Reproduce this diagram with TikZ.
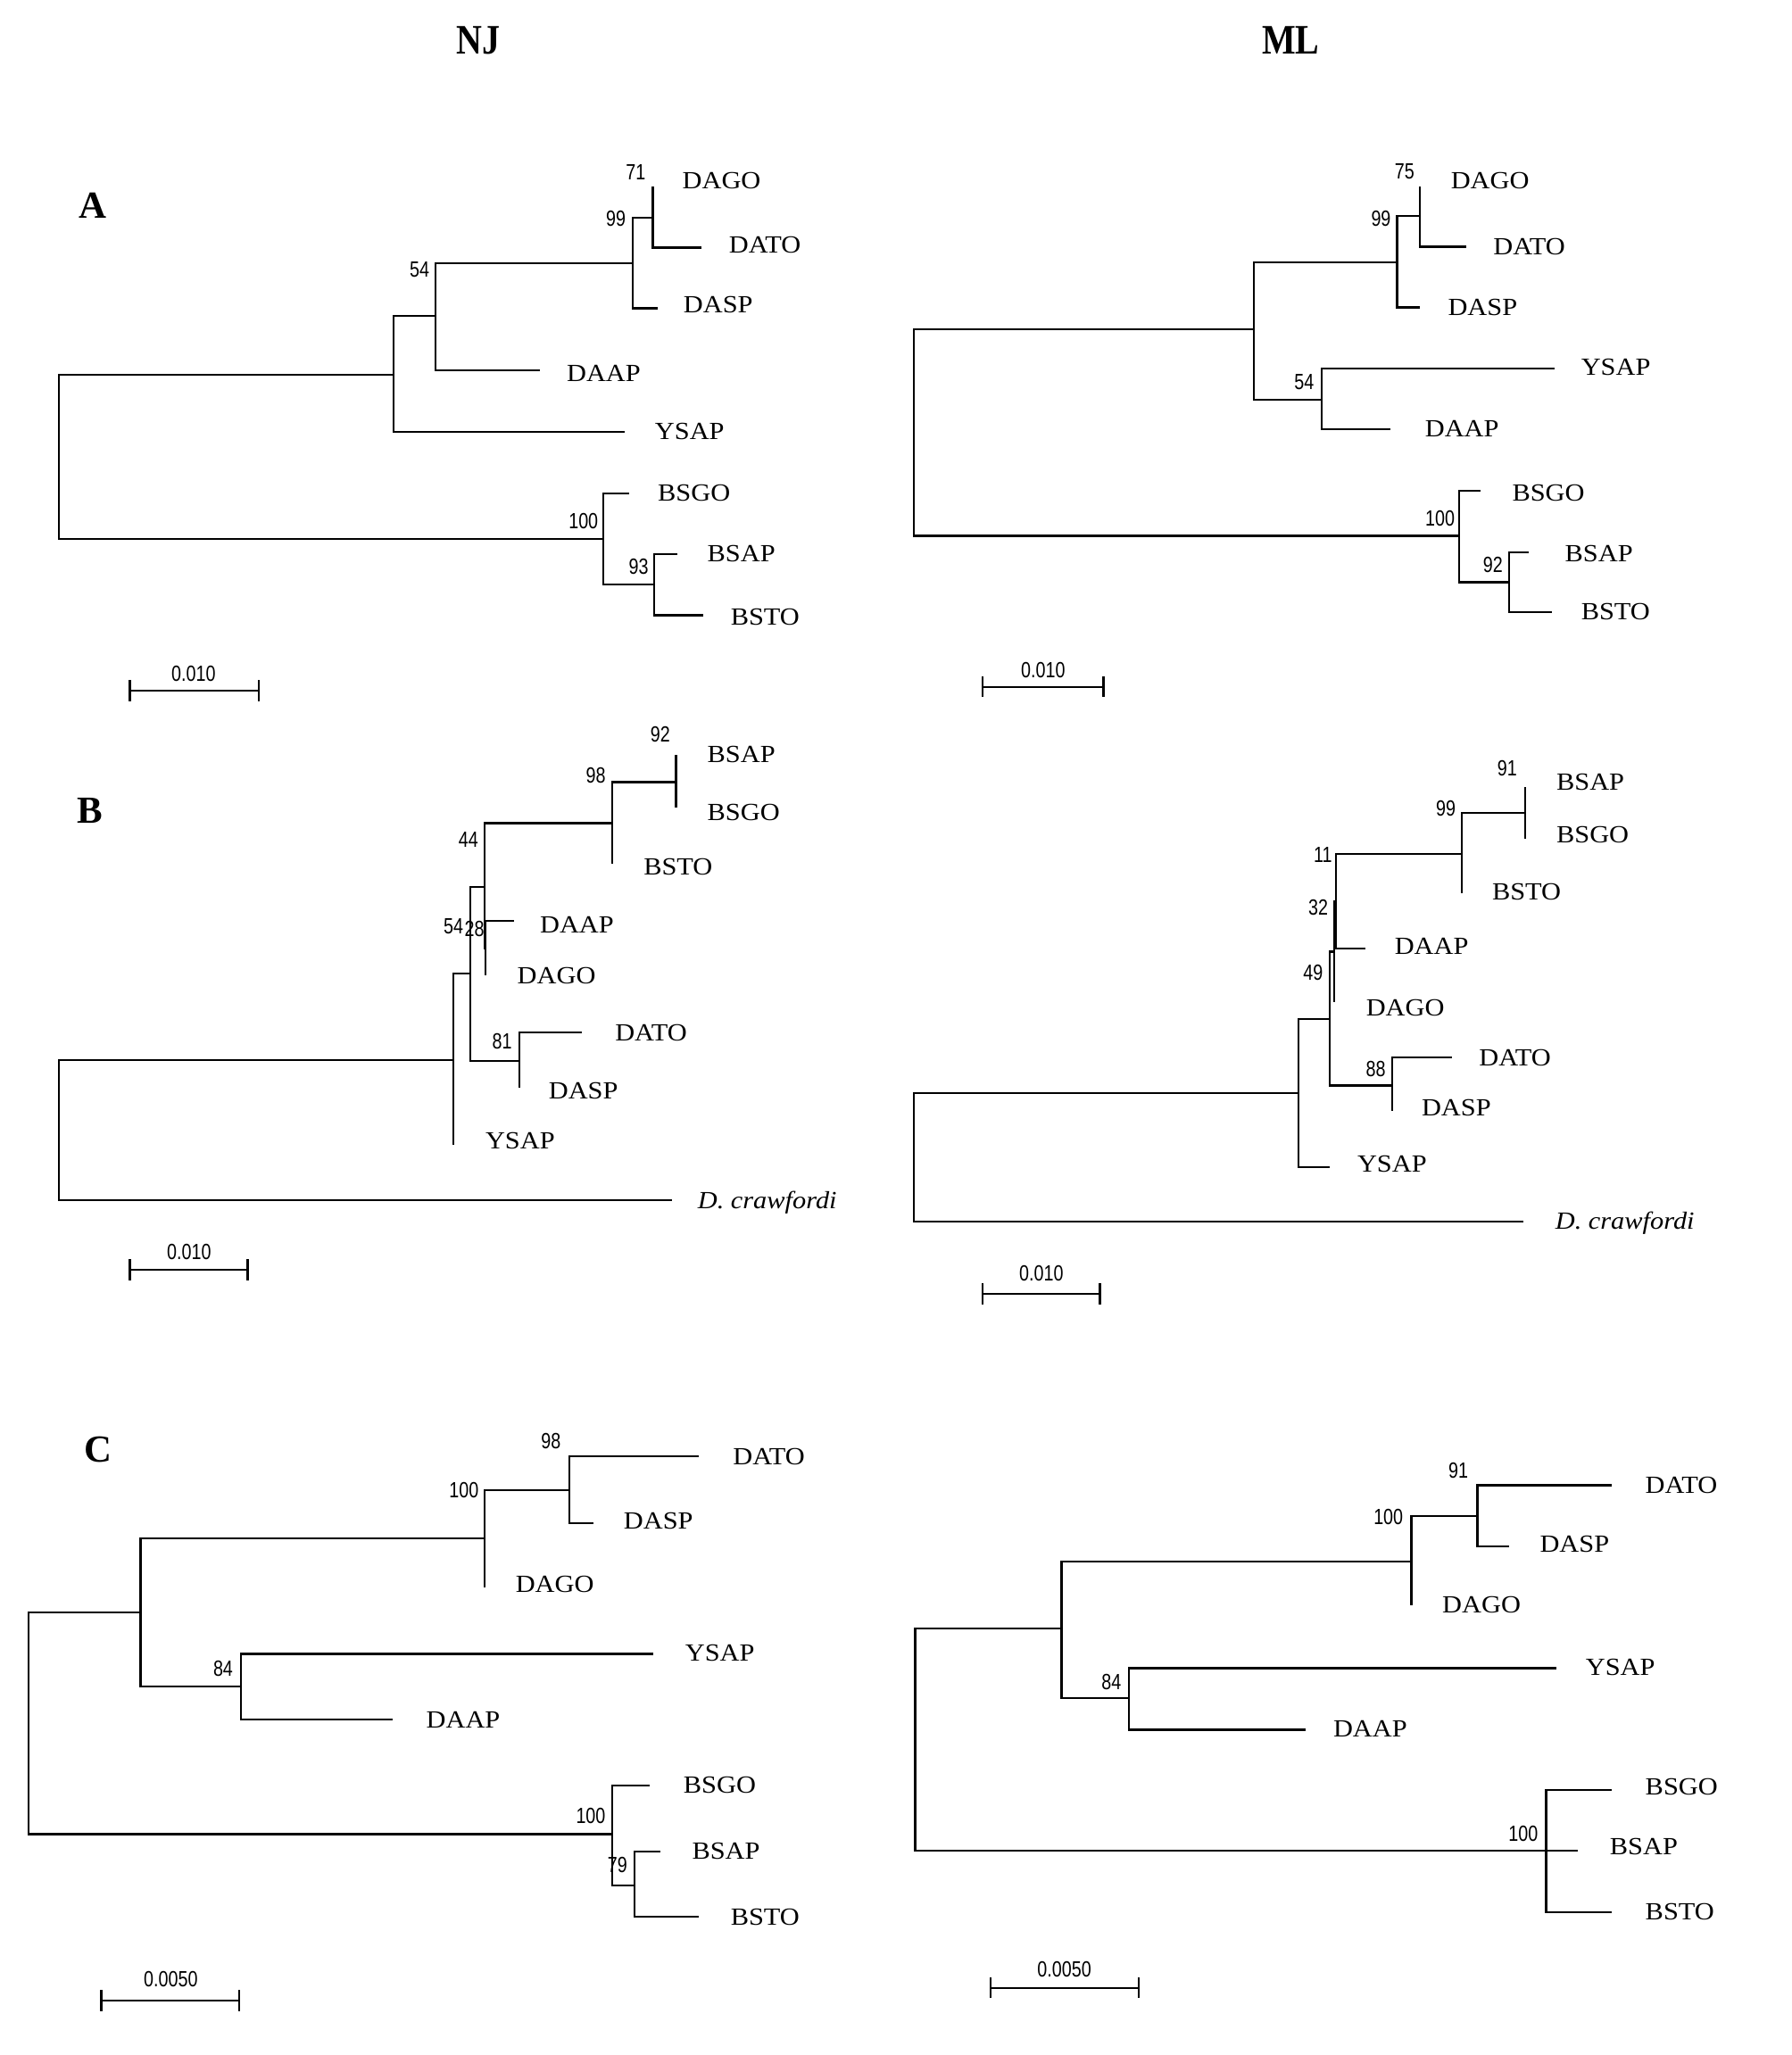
\documentclass[tikz,border=0pt]{standalone}
\usepackage{fontspec}
\setmainfont{Liberation Serif}
\newfontfamily\taxfont[FakeStretch=1.1]{Liberation Serif}
\newfontfamily\bootfont[FakeStretch=0.8]{Liberation Sans}
\newfontfamily\titfont[FakeStretch=0.85]{Liberation Serif}
\begin{document}
\begin{tikzpicture}[x=0.5pt,y=-0.5pt,
  br/.style={line width=0.75pt},
  tax/.style={anchor=base west,inner sep=0pt,font=\taxfont\fontsize{9.4}{11}\selectfont},
  taxit/.style={tax,font=\taxfont\itshape\fontsize{9.4}{11}\selectfont},
  boot/.style={anchor=center,inner sep=0pt,font=\bootfont\fontsize{8.4}{10}\selectfont},
  paneltitle/.style={anchor=base,inner sep=0pt,font=\titfont\bfseries\fontsize{16}{18}\selectfont},
  panelletter/.style={anchor=base,inner sep=0pt,font=\bfseries\fontsize{14.6}{16}\selectfont}
]
\useasboundingbox (0,0) rectangle (1367,1568);

% titles
\node[paneltitle] (tNJ) at (364.9,40.9) {NJ};
\node[paneltitle] (tML) at (984.8,40.9) {ML};
\node[panelletter] (pA) at (70.8,166.3) {A};
\node[panelletter] (pB) at (68.6,628.3) {B};
\node[panelletter] (pC) at (74.7,1115.8) {C};

%% ================= A NJ =================
\coordinate (anR) at (44.7,348.5);
\coordinate (an1) at (300.5,285.7);
\coordinate (an54) at (332.2,241.1);
\coordinate (an99) at (482.8,200.7);
\coordinate (an71) at (498.0,165.9);
\coordinate (anDAGO) at (498.0,142.5);
\coordinate (anDATO) at (535.0,188.9);
\coordinate (anDASP) at (501.5,235.2);
\coordinate (anDAAP) at (411.6,282.5);
\coordinate (anYSAP) at (476.3,329.7);
\coordinate (an100) at (460.3,411.2);
\coordinate (anBSGO) at (479.8,376.4);
\coordinate (an93) at (499.3,445.7);
\coordinate (anBSAP) at (516.7,423.0);
\coordinate (anBSTO) at (536.3,469.4);
\foreach \p/\c in {anR/an1,anR/an100,an1/an54,an1/anYSAP,an54/an99,an54/anDAAP,
  an99/an71,an99/anDASP,an71/anDAGO,an71/anDATO,an100/anBSGO,an100/an93,an93/anBSAP,an93/anBSTO}
  \draw[br] (\p) |- (\c);
\node[tax] (anDAGOl) at (520.2,144.3) {DAGO};
\node[tax] (anDATOl) at (555.8,193.0) {DATO};
\node[tax] (anDASPl) at (521.1,238.5) {DASP};
\node[tax] (anDAAPl) at (432.0,291.0) {DAAP};
\node[tax] (anYSAPl) at (499.3,335.3) {YSAP};
\node[tax] (anBSGOl) at (501.5,382.0) {BSGO};
\node[tax] (anBSAPl) at (539.3,428.3) {BSAP};
\node[tax] (anBSTOl) at (557.1,477.0) {BSTO};
\node[boot] (anb71) at (485.0,131.3) {71};
\node[boot] (anb99) at (469.8,166.7) {99};
\node[boot] (anb54) at (320.0,206.0) {54};
\node[boot] (anb100) at (445.1,397.9) {100};
\node[boot] (anb93) at (487.2,432.5) {93};
\coordinate (ansL) at (99.0,527.0);
\coordinate (ansR) at (197.6,527.0);
\draw[br] (ansL) -- (ansR);
\draw[br] ([yshift=4pt]ansL) -- ([yshift=-4pt]ansL);
\draw[br] ([yshift=4pt]ansR) -- ([yshift=-4pt]ansR);
\node[boot] (ansl) at (147.6,513.7) {0.010};

%% ================= A ML =================
\coordinate (amR) at (697.3,330.2);
\coordinate (am1) at (956.4,251.5);
\coordinate (am99) at (1065.8,200.1);
\coordinate (am75) at (1083.3,164.7);
\coordinate (amDAGO) at (1083.3,142.5);
\coordinate (amDATO) at (1118.3,188.3);
\coordinate (amDASP) at (1083.3,234.6);
\coordinate (am54) at (1008.1,304.9);
\coordinate (amYSAP) at (1186.2,281.0);
\coordinate (amDAAP) at (1060.6,327.6);
\coordinate (am100) at (1113.1,408.8);
\coordinate (amBSGO) at (1129.3,374.3);
\coordinate (am92) at (1151.2,444.3);
\coordinate (amBSAP) at (1166.5,421.5);
\coordinate (amBSTO) at (1184.0,467.0);
\foreach \p/\c in {amR/am1,amR/am100,am1/am99,am1/am54,am99/am75,am99/amDASP,
  am75/amDAGO,am75/amDATO,am54/amYSAP,am54/amDAAP,am100/amBSGO,am100/am92,am92/amBSAP,am92/amBSTO}
  \draw[br] (\p) |- (\c);
\node[tax] (amDAGOl) at (1106.5,144.3) {DAGO};
\node[tax] (amDATOl) at (1138.9,194.5) {DATO};
\node[tax] (amDASPl) at (1104.3,240.8) {DASP};
\node[tax] (amYSAPl) at (1205.9,286.0) {YSAP};
\node[tax] (amDAAPl) at (1086.8,333.2) {DAAP};
\node[tax] (amBSGOl) at (1153.3,382.0) {BSGO};
\node[tax] (amBSAPl) at (1193.6,428.3) {BSAP};
\node[tax] (amBSTOl) at (1205.9,472.6) {BSTO};
\node[boot] (amb75) at (1071.5,130.7) {75};
\node[boot] (amb99) at (1053.6,166.7) {99};
\node[boot] (amb54) at (994.9,291.6) {54};
\node[boot] (amb100) at (1098.6,395.5) {100};
\node[boot] (amb92) at (1138.9,431.0) {92};
\coordinate (amsL) at (749.8,524.0);
\coordinate (amsR) at (841.8,524.0);
\draw[br] (amsL) -- (amsR);
\draw[br] ([yshift=4pt]amsL) -- ([yshift=-4pt]amsL);
\draw[br] ([yshift=4pt]amsR) -- ([yshift=-4pt]amsR);
\node[boot] (amsl) at (795.8,511.3) {0.010};

%% ================= B NJ =================
\coordinate (bnR) at (44.7,862.2);
\coordinate (bnX) at (346.0,808.8);
\coordinate (bnY) at (359.0,742.8);
\coordinate (bnYSAP) at (346.0,873.5);
\coordinate (bnZ) at (369.9,676.7);
\coordinate (bn81) at (396.4,809.6);
\coordinate (bnW) at (370.6,723.5);
\coordinate (bn98) at (466.8,628.1);
\coordinate (bn92) at (515.8,596.7);
\coordinate (bnBSAP) at (515.8,576.1);
\coordinate (bnBSGO) at (515.8,616.2);
\coordinate (bnBSTO) at (466.8,659.2);
\coordinate (bnDAAP) at (392.1,702.8);
\coordinate (bnDAGO) at (370.6,744.3);
\coordinate (bnDATO) at (443.8,787.6);
\coordinate (bnDASP) at (396.4,829.7);
\coordinate (bnDcr) at (512.4,915.7);
\foreach \p/\c in {bnR/bnX,bnR/bnDcr,bnX/bnY,bnX/bnYSAP,bnY/bnZ,bnY/bn81,bnZ/bn98,bnZ/bnW,
  bnW/bnDAAP,bnW/bnDAGO,bn98/bn92,bn98/bnBSTO,bn92/bnBSAP,bn92/bnBSGO,bn81/bnDATO,bn81/bnDASP}
  \draw[br] (\p) |- (\c);
\node[tax] (bnBSAPl) at (539.3,581.7) {BSAP};
\node[tax] (bnBSGOl) at (539.3,625.9) {BSGO};
\node[tax] (bnBSTOl) at (490.7,667.7) {BSTO};
\node[tax] (bnDAAPl) at (411.6,711.8) {DAAP};
\node[tax] (bnDAGOl) at (394.3,750.5) {DAGO};
\node[tax] (bnDATOl) at (468.9,794.4) {DATO};
\node[tax] (bnDASPl) at (418.2,838.2) {DASP};
\node[tax] (bnYSAPl) at (370.0,876.9) {YSAP};
\node[taxit] (bnDcrl) at (531.9,921.9) {D. crawfordi};
\node[boot] (bnb92) at (503.7,560.4) {92};
\node[boot] (bnb98) at (454.6,591.9) {98};
\node[boot] (bnb44) at (357.4,640.4) {44};
\node[boot] (bnb54) at (346.0,706.8) {54};
\node[boot] (bnb28) at (361.9,709.1) {28};
\node[boot] (bnb81) at (383.0,794.7) {81};
\coordinate (bnsL) at (99.0,968.7);
\coordinate (bnsR) at (188.9,968.7);
\draw[br] (bnsL) -- (bnsR);
\draw[br] ([yshift=4pt]bnsL) -- ([yshift=-4pt]bnsL);
\draw[br] ([yshift=4pt]bnsR) -- ([yshift=-4pt]bnsR);
\node[boot] (bnsl) at (144.2,954.9) {0.010};

%% ================= B ML =================
\coordinate (bmR) at (697.3,883.0);
\coordinate (bmX) at (990.5,834.0);
\coordinate (bmY) at (1014.2,777.3);
\coordinate (bmYSAP) at (1014.2,890.4);
\coordinate (bmP) at (1017.7,726.1);
\coordinate (bm88) at (1062.3,828.3);
\coordinate (bmQ) at (1019.3,687.8);
\coordinate (bmDAGO) at (1017.7,764.7);
\coordinate (bm99) at (1115.3,651.7);
\coordinate (bmDAAP) at (1042.0,723.8);
\coordinate (bm91) at (1163.4,620.5);
\coordinate (bmBSTO) at (1115.3,681.6);
\coordinate (bmBSAP) at (1163.4,600.5);
\coordinate (bmBSGO) at (1163.4,639.7);
\coordinate (bmDATO) at (1107.4,806.8);
\coordinate (bmDASP) at (1062.3,847.8);
\coordinate (bmDcr) at (1162.1,932.0);
\foreach \p/\c in {bmR/bmX,bmR/bmDcr,bmX/bmY,bmX/bmYSAP,bmY/bmP,bmY/bm88,bmP/bmQ,bmP/bmDAGO,
  bmQ/bm99,bmQ/bmDAAP,bm99/bm91,bm99/bmBSTO,bm91/bmBSAP,bm91/bmBSGO,bm88/bmDATO,bm88/bmDASP}
  \draw[br] (\p) |- (\c);
\node[tax] (bmBSAPl) at (1187.1,602.9) {BSAP};
\node[tax] (bmBSGOl) at (1187.1,643.1) {BSGO};
\node[tax] (bmBSTOl) at (1138.0,686.9) {BSTO};
\node[tax] (bmDAAPl) at (1063.6,728.4) {DAAP};
\node[tax] (bmDAGOl) at (1041.8,775.2) {DAGO};
\node[tax] (bmDATOl) at (1128.0,813.0) {DATO};
\node[tax] (bmDASPl) at (1084.2,851.7) {DASP};
\node[tax] (bmYSAPl) at (1035.2,894.1) {YSAP};
\node[taxit] (bmDcrl) at (1186.2,937.6) {D. crawfordi};
\node[boot] (bmb91) at (1149.8,586.1) {91};
\node[boot] (bmb99) at (1103.0,616.8) {99};
\node[boot] (bmb11) at (1009.3,652.4) {11};
\node[boot] (bmb32) at (1005.7,692.5) {32};
\node[boot] (bmb49) at (1001.8,742.0) {49};
\node[boot] (bmb88) at (1049.6,815.4) {88};
\coordinate (bmsL) at (749.8,987.3);
\coordinate (bmsR) at (839.1,987.3);
\draw[br] (bmsL) -- (bmsR);
\draw[br] ([yshift=4pt]bmsL) -- ([yshift=-4pt]bmsL);
\draw[br] ([yshift=4pt]bmsR) -- ([yshift=-4pt]bmsR);
\node[boot] (bmsl) at (794.5,971.5) {0.010};

%% ================= C NJ =================
\coordinate (cnR) at (21.7,1314.8);
\coordinate (cn1) at (107.3,1230.1);
\coordinate (cn100a) at (369.5,1173.9);
\coordinate (cn84) at (183.7,1287.0);
\coordinate (cn98) at (434.2,1137.0);
\coordinate (cnDAGO) at (369.5,1211.4);
\coordinate (cnDATO) at (533.2,1111.4);
\coordinate (cnDASP) at (452.5,1162.0);
\coordinate (cnYSAP) at (498.5,1262.0);
\coordinate (cnDAAP) at (299.6,1312.0);
\coordinate (cn100b) at (466.8,1399.5);
\coordinate (cnBSGO) at (495.9,1362.6);
\coordinate (cn79) at (484.1,1438.6);
\coordinate (cnBSAP) at (503.7,1412.6);
\coordinate (cnBSTO) at (533.2,1462.6);
\foreach \p/\c in {cnR/cn1,cnR/cn100b,cn1/cn100a,cn1/cn84,cn100a/cn98,cn100a/cnDAGO,
  cn98/cnDATO,cn98/cnDASP,cn84/cnYSAP,cn84/cnDAAP,cn100b/cnBSGO,cn100b/cn79,cn79/cnBSAP,cn79/cnBSTO}
  \draw[br] (\p) |- (\c);
\node[tax] (cnDATOl) at (558.8,1117.6) {DATO};
\node[tax] (cnDASPl) at (475.5,1166.6) {DASP};
\node[tax] (cnDAGOl) at (393.0,1215.1) {DAGO};
\node[tax] (cnYSAPl) at (522.4,1267.6) {YSAP};
\node[tax] (cnDAAPl) at (324.8,1318.2) {DAAP};
\node[tax] (cnBSGOl) at (521.1,1368.2) {BSGO};
\node[tax] (cnBSAPl) at (527.6,1418.2) {BSAP};
\node[tax] (cnBSTOl) at (557.1,1468.8) {BSTO};
\node[boot] (cnb98) at (420.3,1099.5) {98};
\node[boot] (cnb100a) at (353.9,1137.0) {100};
\node[boot] (cnb84) at (170.2,1272.9) {84};
\node[boot] (cnb100b) at (450.7,1385.4) {100};
\node[boot] (cnb79) at (471.1,1423.0) {79};
\coordinate (cnsL) at (77.3,1526.5);
\coordinate (cnsR) at (182.4,1526.5);
\draw[br] (cnsL) -- (cnsR);
\draw[br] ([yshift=4pt]cnsL) -- ([yshift=-4pt]cnsL);
\draw[br] ([yshift=4pt]cnsR) -- ([yshift=-4pt]cnsR);
\node[boot] (cnsl) at (130.3,1510.0) {0.0050};

%% ================= C ML =================
\coordinate (cmR) at (698.2,1327.3);
\coordinate (cm1) at (809.8,1242.6);
\coordinate (cm100a) at (1076.8,1191.7);
\coordinate (cm84) at (861.4,1295.8);
\coordinate (cm91) at (1127.1,1156.7);
\coordinate (cmDAGO) at (1076.8,1225.1);
\coordinate (cmDATO) at (1229.9,1133.3);
\coordinate (cmDASP) at (1151.2,1180.1);
\coordinate (cmYSAP) at (1187.5,1272.9);
\coordinate (cmDAAP) at (995.8,1319.8);
\coordinate (cm100b) at (1179.6,1412.0);
\coordinate (cmBSGO) at (1229.9,1365.8);
\coordinate (cmBSAP) at (1203.7,1412.0);
\coordinate (cmBSTO) at (1229.9,1458.9);
\foreach \p/\c in {cmR/cm1,cmR/cm100b,cm1/cm100a,cm1/cm84,cm100a/cm91,cm100a/cmDAGO,
  cm91/cmDATO,cm91/cmDASP,cm84/cmYSAP,cm84/cmDAAP,cm100b/cmBSGO,cm100b/cmBSAP,cm100b/cmBSTO}
  \draw[br] (\p) |- (\c);
\node[tax] (cmDATOl) at (1254.9,1139.5) {DATO};
\node[tax] (cmDASPl) at (1174.4,1184.5) {DASP};
\node[tax] (cmDAGOl) at (1100.0,1230.7) {DAGO};
\node[tax] (cmYSAPl) at (1209.4,1278.2) {YSAP};
\node[tax] (cmDAAPl) at (1016.8,1325.1) {DAAP};
\node[tax] (cmBSGOl) at (1254.9,1369.8) {BSGO};
\node[tax] (cmBSAPl) at (1227.8,1415.1) {BSAP};
\node[tax] (cmBSTOl) at (1254.9,1465.1) {BSTO};
\node[boot] (cmb91) at (1112.6,1122.0) {91};
\node[boot] (cmb100a) at (1059.2,1157.3) {100};
\node[boot] (cmb84) at (847.9,1283.3) {84};
\node[boot] (cmb100b) at (1162.1,1398.9) {100};
\coordinate (cmsL) at (756.0,1516.7);
\coordinate (cmsR) at (868.9,1516.7);
\draw[br] (cmsL) -- (cmsR);
\draw[br] ([yshift=4pt]cmsL) -- ([yshift=-4pt]cmsL);
\draw[br] ([yshift=4pt]cmsR) -- ([yshift=-4pt]cmsR);
\node[boot] (cmsl) at (812.0,1502.6) {0.0050};
\end{tikzpicture}
\end{document}
